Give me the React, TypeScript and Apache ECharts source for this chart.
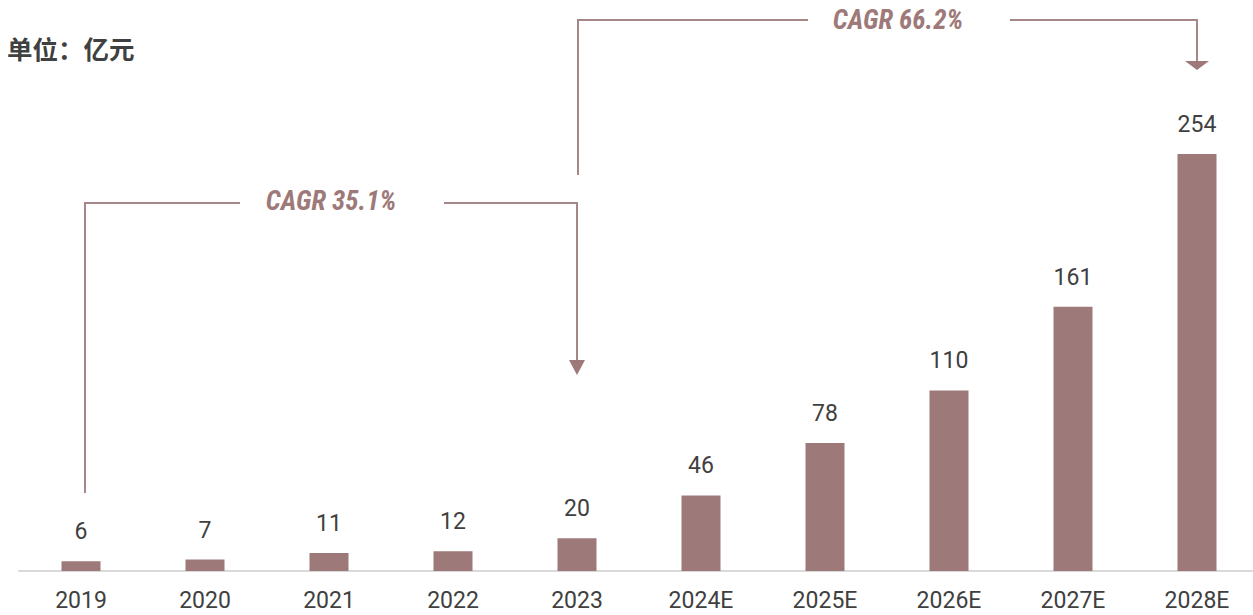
import React, { useEffect, useRef } from "react";
import * as echarts from "echarts";

const categories = ["2019", "2020", "2021", "2022", "2023", "2024E", "2025E", "2026E", "2027E", "2028E"];
const values = [6, 7, 11, 12, 20, 46, 78, 110, 161, 254];
const unitLabel = "单位：亿元";
const cagrLabels = ["CAGR 35.1%", "CAGR 66.2%"];

const BAR = "#9E7979";
const LINE = "#A68787";
const TXT = "#404040";

export default function App() {
  const ref = useRef<HTMLDivElement>(null);
  useEffect(() => {
    if (!ref.current) return;
    const chart = echarts.init(ref.current, undefined, { renderer: "svg" });
    const lineStyle = { stroke: LINE, lineWidth: 2, fill: "none" };
    const cagrFont = {
      fill: BAR,
      fontSize: 27,
      fontStyle: "italic",
      fontWeight: "bold",
      fontFamily: "Liberation Sans Narrow, Roboto Condensed, Liberation Sans, sans-serif",
      align: "center",
      verticalAlign: "middle",
    };
    chart.setOption({
      animation: false,
      grid: { left: 19, right: 0, top: 78.5, bottom: 44 },
      xAxis: {
        type: "category",
        data: categories,
        axisLine: { lineStyle: { color: "#D9D9D9", width: 2 } },
        axisTick: { show: false },
        axisLabel: { color: TXT, fontSize: 23, lineHeight: 22, margin: 18, fontFamily: "Roboto" },
      },
      yAxis: { type: "value", min: 0, max: 300, show: false, splitLine: { show: false } },
      series: [
        {
          type: "bar",
          data: values,
          barWidth: 39,
          itemStyle: { color: BAR },
          label: {
            show: true,
            position: "top",
            distance: 18,
            color: TXT,
            fontSize: 23,
            fontFamily: "Roboto",
          },
        },
      ],
      graphic: [
        {
          type: "text",
          left: 7,
          top: 35,
          style: { text: unitLabel, fill: TXT, fontSize: 25.5, fontWeight: "bold", fontFamily: "Noto Sans CJK SC" },
        },
        // bracket 1
        { type: "polyline", shape: { points: [[85, 493], [85, 203], [240, 203]] }, style: lineStyle },
        { type: "polyline", shape: { points: [[444, 203], [577, 203], [577, 362]] }, style: lineStyle },
        { type: "polygon", shape: { points: [[569, 360], [585, 360], [577, 375]] }, style: { fill: BAR } },
        { type: "text", x: 331, y: 201, style: { ...cagrFont, text: cagrLabels[0] } },
        // bracket 2
        { type: "polyline", shape: { points: [[578, 175], [578, 20], [808, 20]] }, style: lineStyle },
        { type: "polyline", shape: { points: [[1010, 20], [1197, 20], [1197, 62]] }, style: lineStyle },
        { type: "polygon", shape: { points: [[1185, 61], [1209, 61], [1197, 70]] }, style: { fill: BAR } },
        { type: "text", x: 898, y: 20, style: { ...cagrFont, text: cagrLabels[1] } },
      ],
    });
    return () => chart.dispose();
  }, []);
  return (
    <div
      style={{ position: "absolute", left: 0, top: 0, width: 1253, height: 615, overflow: "hidden", background: "#fff" }}
    >
      <div ref={ref} style={{ width: 1259, height: 615 }} />
    </div>
  );
}
